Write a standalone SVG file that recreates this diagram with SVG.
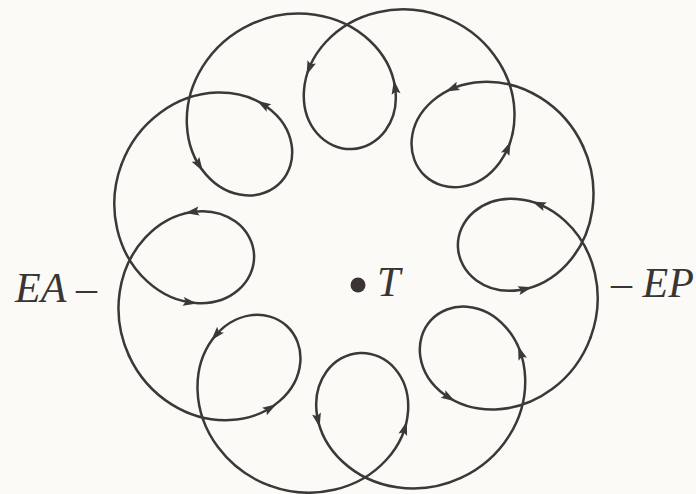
<svg xmlns="http://www.w3.org/2000/svg" width="696" height="494" viewBox="0 0 696 494">
<style>
.curve{fill:none;stroke:#3d3838;stroke-width:2.5;stroke-linejoin:round;stroke-linecap:round}
.ah{fill:#3d3838;stroke:none}
.lbl{font-family:"Liberation Serif","Times New Roman",serif;font-style:italic;font-size:42px;fill:#3a3535}
</style>
<defs>
<path id="period" d="M95.67 -230.97 C75.30 -239.41 52.49 -241.72 31.52 -237.76 C10.55 -233.80 -8.42 -223.59 -22.01 -209.80 C-35.60 -196.01 -43.74 -178.76 -45.56 -162.26 C-47.38 -145.76 -42.92 -130.15 -34.25 -119.19 C-25.58 -108.23 -12.83 -102 0 -102 C12.83 -102 25.58 -108.23 34.25 -119.19 C42.92 -130.15 47.38 -145.76 45.56 -162.26 C43.74 -178.76 35.60 -196.01 22.01 -209.80 C8.42 -223.59 -10.55 -233.80 -31.52 -237.76 C-52.49 -241.72 -75.30 -239.41 -95.67 -230.97"/>
<path id="ah" d="M7 0 L-7 -4.5 L-4.5 0 L-7 4.5 Z"/>
</defs>
<rect width="696" height="494" fill="#fbfaf6"/>
<g id="orbit" transform="translate(356 251) rotate(-2.3)">
<g id="connectors" class="curve">
<use href="#period"/>
<use href="#period" transform="rotate(45)"/>
<use href="#period" transform="rotate(90)"/>
<use href="#period" transform="rotate(135)"/>
<use href="#period" transform="rotate(180)"/>
<use href="#period" transform="rotate(225)"/>
<use href="#period" transform="rotate(270)"/>
<use href="#period" transform="rotate(315)"/>
</g>
<g id="arrows" class="ah">
<use href="#ah" transform="translate(-39.51 -184.34) rotate(113.93)"/>
<use href="#ah" transform="translate(45.56 -162.26) rotate(-96.31)"/>
<use href="#ah" transform="rotate(45) translate(-39.51 -184.34) rotate(113.93)"/>
<use href="#ah" transform="rotate(45) translate(41.70 -178.86) rotate(-109.62)"/>
<use href="#ah" transform="rotate(90) translate(-39.51 -184.34) rotate(113.93)"/>
<use href="#ah" transform="rotate(90) translate(44.72 -167.78) rotate(-100.82)"/>
<use href="#ah" transform="rotate(135) translate(-36.87 -189.74) rotate(118.17)"/>
<use href="#ah" transform="rotate(135) translate(44.72 -167.78) rotate(-100.82)"/>
<use href="#ah" transform="rotate(180) translate(-41.70 -178.86) rotate(109.62)"/>
<use href="#ah" transform="rotate(180) translate(44.72 -167.78) rotate(-100.82)"/>
<use href="#ah" transform="rotate(225) translate(-43.44 -173.33) rotate(105.26)"/>
<use href="#ah" transform="rotate(225) translate(45.94 -156.79) rotate(-91.71)"/>
<use href="#ah" transform="rotate(270) translate(-44.72 -167.78) rotate(100.82)"/>
<use href="#ah" transform="rotate(270) translate(45.56 -162.26) rotate(-96.31)"/>
<use href="#ah" transform="rotate(315) translate(-43.44 -173.33) rotate(105.26)"/>
<use href="#ah" transform="rotate(315) translate(44.72 -167.78) rotate(-100.82)"/>
</g>
</g>
<g id="center-T">
<circle cx="358" cy="285" r="7.5" fill="#3a3434"/>
<text class="lbl" x="377" y="296">T</text>
</g>
<g id="label-EA">
<text class="lbl" x="15" y="302">EA –</text>
</g>
<g id="label-EP">
<text class="lbl" x="611" y="297">– EP</text>
</g>
</svg>
